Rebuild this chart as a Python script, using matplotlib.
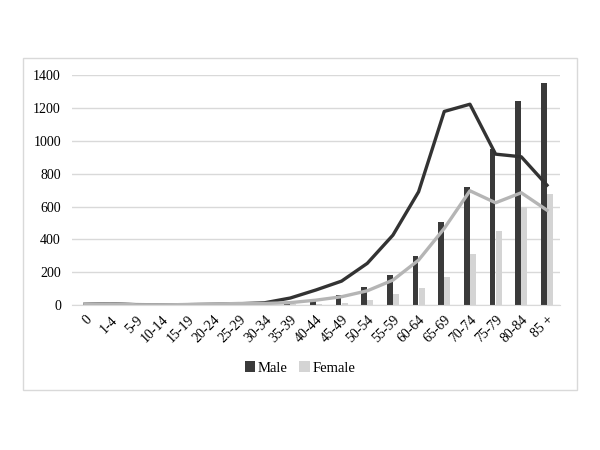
import numpy as np
import matplotlib.pyplot as plt
from matplotlib.patches import Rectangle

ages = ['0', '1-4', '5-9', '10-14', '15-19', '20-24', '25-29', '30-34', '35-39',
        '40-44', '45-49', '50-54', '55-59', '60-64', '65-69', '70-74', '75-79',
        '80-84', '85 +']

male_bars = [3, 1, 1, 1, 1, 2, 3, 4, 8, 30, 59, 111, 183, 300, 505, 720, 950, 1240, 1355]
female_bars = [2, 1, 1, 1, 1, 1, 2, 3, 5, 8, 15, 30, 65, 105, 172, 314, 450, 598, 676]
male_line = [5, 8, 3, 2, 3, 5, 8, 14, 43, 92, 146, 254, 426, 690, 1179, 1223, 919, 903, 730]
female_line = [4, 7, 2, 2, 3, 6, 10, 10, 15, 30, 51, 87, 152, 274, 467, 696, 623, 684, 578]

plt.rcParams['font.family'] = ['Liberation Serif', 'DejaVu Serif']

fig = plt.figure(figsize=(6, 4.5), dpi=100)
fig.patches.append(Rectangle((23 / 600, 1 - 390 / 450), 554 / 600, 332 / 450,
                             transform=fig.transFigure, fill=False,
                             edgecolor='#d9d9d9', lw=1))

ax = fig.add_axes([0.12, 0.322, 0.813, 0.511])
x = np.arange(len(ages))
w = 0.23
ax.bar(x - 0.12, male_bars, w, color='#3a3a3a', label='Male', zorder=2)
ax.bar(x + 0.12, female_bars, w, color='#d4d4d4', label='Female', zorder=2)
ax.plot(x, male_line, color='#333333', lw=2.4, zorder=3, solid_joinstyle='round')
ax.plot(x, female_line, color='#b5b5b5', lw=2.4, zorder=3, solid_joinstyle='round')

ax.set_xlim(-0.5, len(ages) - 0.5)
ax.set_ylim(0, 1400)
ax.set_yticks(range(0, 1401, 200))
ax.set_xticks(x)
ax.set_xticklabels(ages, rotation=45, ha='right', rotation_mode='anchor', fontsize=10)
ax.tick_params(axis='y', labelsize=10, length=0, pad=8)
ax.tick_params(axis='x', length=0, pad=6)
ax.grid(axis='y', color='#d9d9d9', lw=1, zorder=0)
for s in ['top', 'right', 'left']:
    ax.spines[s].set_visible(False)
ax.spines['bottom'].set_color('#d9d9d9')

ax.legend(loc='center', bbox_to_anchor=(0.5, 1 - 368 / 450), bbox_transform=fig.transFigure,
          ncol=2, frameon=False, fontsize=10.5, handlelength=0.7, handleheight=0.7,
          handletextpad=0.2, columnspacing=0.8)

fig.savefig('out.png', dpi=100, facecolor='white')
